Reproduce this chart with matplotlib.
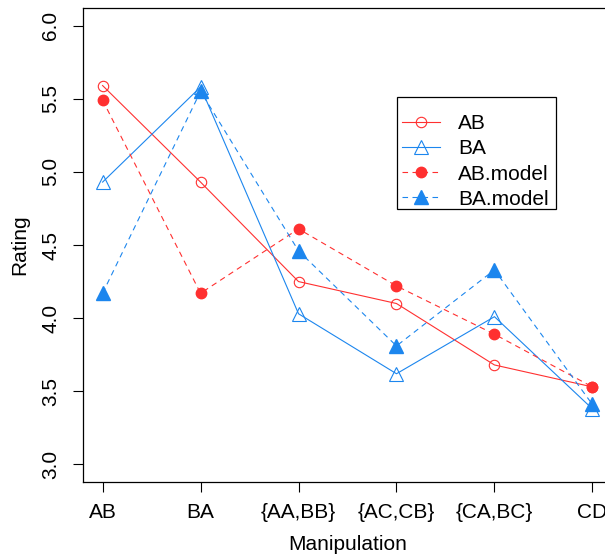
import numpy as np
import matplotlib
matplotlib.use('Agg')
import matplotlib.pyplot as plt
from matplotlib.patches import Rectangle

plt.rcParams['font.family'] = ['Liberation Sans', 'DejaVu Sans']

manip = ['AB', 'BA', '{AA,BB}', '{AC,CB}', '{CA,BC}', 'CD']
ab = [5.59, 4.93, 4.25, 4.10, 3.68, 3.53]
ba = [4.93, 5.58, 4.03, 3.62, 4.01, 3.38]
ab_model = [5.49, 4.17, 4.61, 4.22, 3.89, 3.53]
ba_model = [4.17, 5.55, 4.46, 3.81, 4.33, 3.41]

red = '#FF3030'
blue = '#1C86EE'
W, H = 605, 557

x = np.arange(1, len(manip) + 1)

fig = plt.figure(figsize=(W/100, H/100), dpi=100)
ax = fig.add_axes([83/W, 1 - 482/H, (612 - 83)/W, (482 - 8)/H])

lw = 0.8
ax.plot(x, ab, color=red, lw=lw, marker='o', ms=7.5, mfc='none', mec=red, mew=lw, label='AB')
ax.plot(x, ba, color=blue, lw=lw, marker='^', ms=9.5, mfc='none', mec=blue, mew=lw, label='BA')
ax.plot(x, ab_model, color=red, lw=lw, ls=(0, (5, 4)), marker='o', ms=7.5, mfc=red, mec=red, label='AB.model')
ax.plot(x, ba_model, color=blue, lw=lw, ls=(0, (5, 4)), marker='^', ms=9.5, mfc=blue, mec=blue, label='BA.model')

ax.set_xlim(0.8, 6.2)
ax.set_ylim(2.88, 6.12)
ax.set_xticks(x)
ax.set_xticklabels(manip, fontsize=15)
ax.set_yticks([3.0, 3.5, 4.0, 4.5, 5.0, 5.5, 6.0])
ax.set_yticklabels(['3.0', '3.5', '4.0', '4.5', '5.0', '5.5', '6.0'], fontsize=15,
                   rotation=90, va='center')
ax.tick_params(direction='out', length=7, width=0.8)
ax.tick_params(axis='x', pad=8)
ax.tick_params(axis='y', pad=9.5)
for s in ax.spines.values():
    s.set_linewidth(0.9)

fig.text(348/W, 1 - 545/H, 'Manipulation', ha='center', va='center', fontsize=15)
fig.text(20/W, 1 - 245/H, 'Rating', ha='center', va='center', fontsize=15, rotation=90)

leg = fig.legend(loc='upper left', bbox_to_anchor=(402/W, 1 - 114/H), fontsize=15,
                 frameon=False, borderpad=0, labelspacing=0.30, handlelength=1.83,
                 handletextpad=0.85, borderaxespad=0)
fig.add_artist(Rectangle((397/W, 1 - 209/H), (556 - 397)/W, (209 - 97)/H,
                         transform=fig.transFigure, fill=False, ec='black', lw=0.9))

fig.savefig('out.png', dpi=100)
